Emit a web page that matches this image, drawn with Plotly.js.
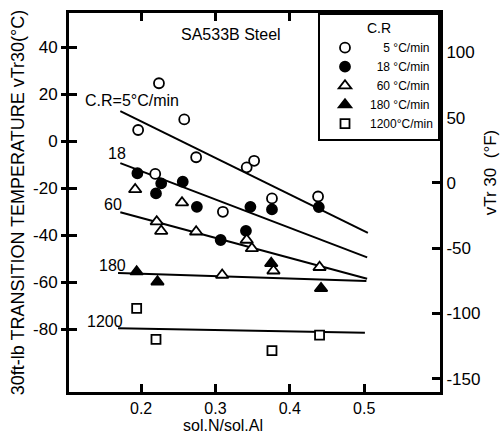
<!DOCTYPE html>
<html>
<head>
<meta charset="utf-8">
<script src="https://cdn.plot.ly/plotly-3.0.1.min.js"></script>
<style>html,body{margin:0;padding:0;background:#fff;}#chart{width:502px;height:437px;}</style>
</head>
<body>
<div id="chart"></div>
<script>
// ---- data ----
const legendNames = ['\u2007\u20075 \u00B0C/min', '\u200718 \u00B0C/min', '\u200760 \u00B0C/min', '180 \u00B0C/min', '1200\u00B0C/min'];

// C.R = 5 °C/min (open circles)
const x5 = [0.196, 0.224, 0.258, 0.274, 0.342, 0.352, 0.219, 0.310, 0.376, 0.438];
const y5 = [4.7, 24.6, 9.2, -6.9, -11.2, -8.4, -14.0, -30.1, -24.4, -23.6];
// C.R = 18 °C/min (filled circles)
const x18 = [0.195, 0.227, 0.220, 0.256, 0.275, 0.347, 0.376, 0.439, 0.307, 0.341];
const y18 = [-13.7, -18.0, -22.3, -17.3, -28.0, -28.0, -29.1, -28.1, -42.1, -38.2];
// C.R = 60 °C/min (open triangles)
const x60 = [0.192, 0.255, 0.221, 0.227, 0.274, 0.342, 0.349, 0.378, 0.440, 0.309];
const y60 = [-20.6, -26.2, -34.3, -38.3, -38.6, -42.1, -45.7, -55.2, -53.7, -57.0];
// C.R = 180 °C/min (filled triangles)
const x180 = [0.194, 0.222, 0.375, 0.442];
const y180 = [-55.6, -59.9, -52.0, -62.7];
// C.R = 1200 °C/min (open squares)
const x1200 = [0.194, 0.220, 0.376, 0.440];
const y1200 = [-71.2, -84.4, -89.2, -82.6];

// regression lines (end points)
const fitX5 = [0.172, 0.505], fitY5 = [12.7, -39.1];
const fitX18 = [0.172, 0.504], fitY18 = [-9.4, -49.5];
const fitX60 = [0.172, 0.504], fitY60 = [-30.3, -58.6];
const fitX180 = [0.169, 0.503], fitY180 = [-56.2, -59.6];
const fitX1200 = [0.169, 0.501], fitY1200 = [-79.7, -81.6];

// line labels
const lineLabelText = ['C.R=5\u00B0C/min', '18', '60', '180', '1200'];
const lineLabelX = [0.122, 0.168, 0.162, 0.161, 0.152];
const lineLabelY = [17.4, -5.1, -26.8, -52.8, -77.0];

// axes
const xTickVals = [0.2, 0.3, 0.4, 0.5];
const xTickText = ['0.2', '0.3', '0.4', '0.5'];
const yTickVals = [40, 20, 0, -20, -40, -60, -80];
const yTickText = ['40', '20', '0', '-20', '-40', '-60', '-80'];
const fTickVals = [100, 50, 0, -50, -100, -150];
const fTickText = ['100', '50', '0', '-50', '-100', '-150'];
const xRange = [0.103, 0.602];
const yRange = [-106.8, 54.5];
const fRange = [yRange[0] * 1.8 + 32, yRange[1] * 1.8 + 32];

const FONT = 'Liberation Sans, Arial, sans-serif';
const black = '#000';

function fitTrace(x, y) {
  return {x: x, y: y, type: 'scatter', mode: 'lines', line: {color: black, width: 2},
          showlegend: false, hoverinfo: 'skip'};
}
function pts(x, y, name, symbol, fill, size) {
  return {x: x, y: y, type: 'scatter', mode: 'markers', name: name,
          marker: {symbol: symbol, size: size, color: fill, line: {color: black, width: 1.8}}};
}

const traces = [
  fitTrace(fitX5, fitY5), fitTrace(fitX18, fitY18), fitTrace(fitX60, fitY60),
  fitTrace(fitX180, fitY180), fitTrace(fitX1200, fitY1200),
  pts(x5, y5, legendNames[0], 'circle', '#fff', 10),
  pts(x18, y18, legendNames[1], 'circle', black, 10),
  pts(x60, y60, legendNames[2], 'triangle-up', '#fff', 11),
  pts(x180, y180, legendNames[3], 'triangle-up', black, 11),
  pts(x1200, y1200, legendNames[4], 'square', '#fff', 9),
  {x: xRange, y: fRange, yaxis: 'y2', type: 'scatter', mode: 'markers',
   marker: {opacity: 0}, showlegend: false, hoverinfo: 'skip'},
  {x: xRange, y: yRange, yaxis: 'y3', type: 'scatter', mode: 'markers',
   marker: {opacity: 0}, showlegend: false, hoverinfo: 'skip'}
];

const annotations = lineLabelText.map((t, i) => ({
  x: lineLabelX[i], y: lineLabelY[i], xref: 'x', yref: 'y', text: t, showarrow: false,
  xanchor: i === 0 ? 'left' : 'center', yanchor: 'middle',
  font: {family: FONT, size: 16, color: black}
}));
annotations.push({x: 0.321, y: 45.5, xref: 'x', yref: 'y', text: 'SA533B Steel', showarrow: false,
  xanchor: 'center', yanchor: 'middle', font: {family: FONT, size: 16, color: black}});
annotations.push({x: 0.415, y: -0.089, xref: 'paper', yref: 'paper', text: 'sol.N/sol.Al',
  xanchor: 'center', yanchor: 'middle', showarrow: false, font: {family: FONT, size: 16, color: black}});
annotations.push({x: 1.135, y: 0.58, xref: 'paper', yref: 'paper', text: 'vTr 30  (\u00B0F)',
  xanchor: 'center', yanchor: 'middle', textangle: -90, showarrow: false,
  font: {family: FONT, size: 17, color: black}});

const layout = {
  width: 502, height: 437,
  margin: {l: 69, r: 62, t: 13, b: 45, pad: 0},
  paper_bgcolor: '#fff', plot_bgcolor: '#fff',
  font: {family: FONT, size: 17, color: black},
  showlegend: true,
  legend: {x: 1, xanchor: 'right', y: 1, yanchor: 'top', bgcolor: '#fff',
           bordercolor: black, borderwidth: 2, font: {family: FONT, size: 12, color: black},
           title: {text: 'C.R', side: 'top center', font: {family: FONT, size: 14, color: black}},
           itemwidth: 40, tracegroupgap: 0},
  xaxis: {range: xRange, tickvals: xTickVals, ticktext: xTickText, ticks: 'inside', ticklen: 8,
          tickwidth: 3, tickcolor: black, showline: true, linewidth: 3, linecolor: black,
          mirror: 'ticks', showgrid: false, zeroline: false, tickfont: {size: 16}},
  yaxis: {range: yRange, tickvals: yTickVals, ticktext: yTickText, ticks: 'outside', ticklen: 5,
          tickwidth: 3, tickcolor: black, showline: true, linewidth: 3, linecolor: black,
          showgrid: false, zeroline: false, tickfont: {size: 17},
          title: {text: '30ft-lb TRANSITION TEMPERATURE vTr30(\u00B0C)', font: {size: 18}, standoff: 4}},
  yaxis3: {range: yRange, overlaying: 'y', side: 'left', anchor: 'x', tickvals: yTickVals,
           ticks: 'inside', ticklen: 8, tickwidth: 3, tickcolor: black, showticklabels: false,
           showline: false, showgrid: false, zeroline: false},
  yaxis2: {range: fRange, overlaying: 'y', side: 'right', anchor: 'x', tickvals: fTickVals,
           ticktext: fTickText, ticks: 'inside', ticklen: 8, tickwidth: 3, tickcolor: black,
           showline: true, linewidth: 3, linecolor: black, showgrid: false, zeroline: false,
           tickfont: {size: 17}},
  annotations: annotations
};

Plotly.newPlot('chart', traces, layout, {displayModeBar: false, staticPlot: true});
</script>
</body>
</html>
